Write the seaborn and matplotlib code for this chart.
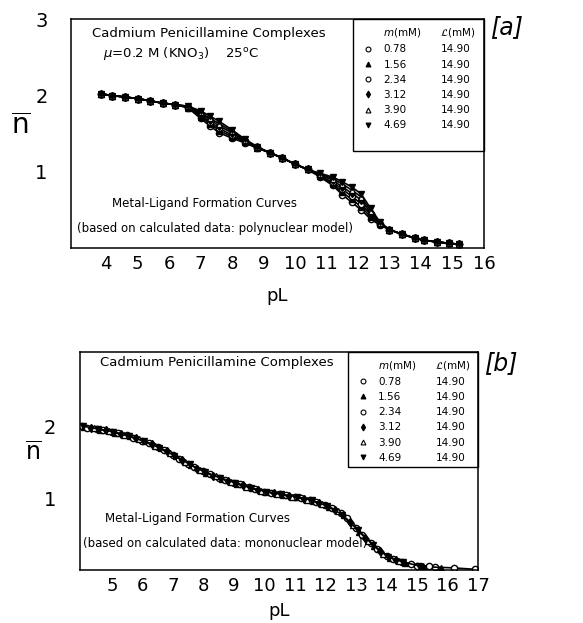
import matplotlib
matplotlib.use('Agg')
import matplotlib.pyplot as plt
import matplotlib.patches as mpatches
from matplotlib.lines import Line2D
import seaborn as sns

### DATA ###
m_labels = ['0.78', '1.56', '2.34', '3.12', '3.90', '4.69']
L_labels = ['14.90', '14.90', '14.90', '14.90', '14.90', '14.90']

## panel [a] : polynuclear model (shared pL grid)
pL_a = [3.85, 4.2, 4.6, 5.0, 5.4, 5.8, 6.2, 6.6, 7.0, 7.3, 7.6, 8.0, 8.4, 8.8,
        9.2, 9.6, 10.0, 10.4, 10.8, 11.2, 11.5, 11.8, 12.1, 12.4, 12.7, 13.0,
        13.4, 13.8, 14.1, 14.5, 14.9, 15.2]
nbar_a_078 = [2.02, 2.00, 1.98, 1.96, 1.93, 1.90, 1.88, 1.84, 1.70, 1.60, 1.51, 1.44, 1.38, 1.31,
              1.25, 1.18, 1.10, 1.03, 0.93, 0.82, 0.70, 0.60, 0.50, 0.38, 0.30, 0.24,
              0.18, 0.13, 0.10, 0.08, 0.06, 0.05]
nbar_a_156 = [2.02, 2.00, 1.98, 1.96, 1.93, 1.90, 1.88, 1.84, 1.72, 1.63, 1.54, 1.46, 1.39, 1.31,
              1.25, 1.18, 1.10, 1.03, 0.94, 0.84, 0.73, 0.64, 0.54, 0.41, 0.31, 0.24,
              0.18, 0.13, 0.10, 0.08, 0.06, 0.05]
nbar_a_234 = [2.02, 2.00, 1.98, 1.96, 1.93, 1.90, 1.88, 1.85, 1.74, 1.65, 1.57, 1.48, 1.40, 1.32,
              1.25, 1.18, 1.10, 1.03, 0.95, 0.86, 0.77, 0.68, 0.58, 0.44, 0.32, 0.24,
              0.18, 0.13, 0.10, 0.08, 0.06, 0.05]
nbar_a_312 = [2.02, 2.00, 1.98, 1.96, 1.93, 1.90, 1.88, 1.85, 1.76, 1.68, 1.60, 1.51, 1.41, 1.32,
              1.25, 1.18, 1.10, 1.03, 0.96, 0.89, 0.80, 0.72, 0.63, 0.46, 0.32, 0.24,
              0.18, 0.13, 0.10, 0.08, 0.06, 0.05]
nbar_a_390 = [2.02, 2.00, 1.98, 1.96, 1.93, 1.90, 1.88, 1.86, 1.78, 1.70, 1.63, 1.53, 1.42, 1.32,
              1.25, 1.18, 1.10, 1.03, 0.97, 0.91, 0.84, 0.76, 0.67, 0.49, 0.33, 0.24,
              0.18, 0.13, 0.10, 0.08, 0.06, 0.05]
nbar_a_469 = [2.02, 2.00, 1.98, 1.96, 1.93, 1.90, 1.88, 1.86, 1.80, 1.73, 1.66, 1.55, 1.43, 1.33,
              1.25, 1.18, 1.10, 1.03, 0.98, 0.93, 0.87, 0.80, 0.71, 0.52, 0.34, 0.24,
              0.18, 0.13, 0.10, 0.08, 0.06, 0.05]

## panel [b] : mononuclear model
pL_b_078 = [4.02, 4.5, 5.0, 5.5, 6.0, 6.5, 7.0, 7.5, 8.0, 8.5, 9.0, 9.5, 10.0, 10.5, 11.0,
            11.5, 12.0, 12.5, 13.0, 13.5, 14.0, 14.5, 15.0, 15.6, 16.2, 16.9]
nbar_b_078 = [2.00, 1.96, 1.92, 1.87, 1.80, 1.71, 1.60, 1.48, 1.37, 1.28, 1.21, 1.15, 1.09, 1.05, 1.02,
              0.97, 0.90, 0.79, 0.58, 0.37, 0.19, 0.11, 0.06, 0.04, 0.03, 0.01]
pL_b_156 = [4.1, 4.6, 5.1, 5.6, 6.1, 6.6, 7.1, 7.6, 8.1, 8.6, 9.1, 9.6, 10.1, 10.6, 11.1,
            11.6, 12.1, 12.6, 13.1, 13.6, 14.1, 14.6, 15.2, 15.8]
nbar_b_156 = [1.99, 1.95, 1.91, 1.86, 1.79, 1.69, 1.58, 1.46, 1.35, 1.27, 1.20, 1.14, 1.08, 1.04, 1.01,
              0.96, 0.88, 0.76, 0.53, 0.33, 0.17, 0.10, 0.05, 0.035]
pL_b_234 = [4.2, 4.7, 5.2, 5.7, 6.2, 6.7, 7.2, 7.7, 8.2, 8.7, 9.2, 9.7, 10.2, 10.7, 11.2,
            11.7, 12.2, 12.7, 13.2, 13.7, 14.2, 14.8, 15.4]
nbar_b_234 = [1.98, 1.95, 1.90, 1.84, 1.77, 1.67, 1.55, 1.43, 1.33, 1.25, 1.19, 1.12, 1.07, 1.04, 1.00,
              0.95, 0.86, 0.72, 0.49, 0.29, 0.15, 0.08, 0.05]
pL_b_312 = [4.3, 4.8, 5.3, 5.8, 6.3, 6.8, 7.3, 7.8, 8.3, 8.8, 9.3, 9.8, 10.3, 10.8, 11.3,
            11.8, 12.3, 12.8, 13.3, 13.8, 14.3]
nbar_b_312 = [1.98, 1.94, 1.89, 1.83, 1.75, 1.65, 1.53, 1.41, 1.31, 1.24, 1.18, 1.11, 1.07, 1.03, 0.99,
              0.93, 0.84, 0.67, 0.45, 0.26, 0.14]
pL_b_390 = [4.4, 4.9, 5.4, 5.9, 6.4, 6.9, 7.4, 7.9, 8.4, 8.9, 9.4, 9.9, 10.4, 10.9, 11.4,
            11.9, 12.4, 12.9, 13.4, 13.9, 14.4]
nbar_b_390 = [1.97, 1.93, 1.88, 1.82, 1.73, 1.62, 1.50, 1.39, 1.30, 1.22, 1.16, 1.10, 1.06, 1.02, 0.98,
              0.92, 0.82, 0.62, 0.41, 0.22, 0.12]
pL_b_469 = [4.05, 4.55, 5.05, 5.55, 6.05, 6.55, 7.05, 7.55, 8.05, 8.55, 9.05, 9.55, 10.05, 10.55, 11.05,
            11.55, 12.05, 12.55, 13.05, 13.55, 14.05, 14.55, 15.05]
nbar_b_469 = [2.00, 1.96, 1.92, 1.86, 1.79, 1.70, 1.59, 1.47, 1.36, 1.28, 1.21, 1.14, 1.09, 1.05, 1.02,
              0.97, 0.89, 0.77, 0.56, 0.35, 0.18, 0.11, 0.06]

series_a = [(pL_a, nbar_a_078), (pL_a, nbar_a_156), (pL_a, nbar_a_234),
            (pL_a, nbar_a_312), (pL_a, nbar_a_390), (pL_a, nbar_a_469)]
series_b = [(pL_b_078, nbar_b_078), (pL_b_156, nbar_b_156), (pL_b_234, nbar_b_234),
            (pL_b_312, nbar_b_312), (pL_b_390, nbar_b_390), (pL_b_469, nbar_b_469)]

## marker style per m: (marker, face colour)
marker_styles = [('o', 'white'), ('^', 'black'), ('o', 'white'),
                 ('d', 'black'), ('^', 'white'), ('v', 'black')]

### STYLE ###
sns.set_style('white')
plt.rcParams['font.family'] = ['DejaVu Sans']
plt.rcParams['xtick.direction'] = 'in'
plt.rcParams['ytick.direction'] = 'in'
plt.rcParams['mathtext.fontset'] = 'dejavusans'
for k in ['text.color', 'axes.labelcolor', 'xtick.color', 'ytick.color']:
    plt.rcParams[k] = 'black'


def plotPanel(ax, series, xlim, ylim, yticks, xticks, lines, tag, box, leg_anchor, nlabel, xlabelpad):
    for (x, y), (mk, fc) in zip(series, marker_styles):
        sns.lineplot(x=x, y=y, ax=ax, color='black', lw=1.2, marker=mk, markersize=4.5,
                     markerfacecolor=fc, markeredgecolor='black', markeredgewidth=1.0,
                     sort=False, estimator=None)

    ax.set_xlim(*xlim)
    ax.set_ylim(*ylim)
    ax.set_xticks(xticks)
    ax.set_yticks(yticks)
    ax.tick_params(axis='x', length=6, width=0.8, labelsize=13, pad=5, top=False)
    ax.tick_params(axis='y', length=7, width=0.8, labelsize=14, pad=17, right=False)
    for sp in ax.spines.values():
        sp.set_color('black')
        sp.set_linewidth(1.1)

    ax.set_xlabel('pL', fontsize=13, labelpad=xlabelpad)
    ax.set_ylabel(r'$\overline{\mathrm{n}}$', fontsize=nlabel[2], rotation=0)
    ax.yaxis.set_label_coords(nlabel[0], nlabel[1])

    # text annotations
    for (tx, ty, s, fs) in lines:
        ax.text(tx, ty, s, transform=ax.transAxes, fontsize=fs, va='center', ha='left')
    ax.text(1.015, tag[1], tag[0], transform=ax.transAxes, fontsize=17, style='italic',
            va='center', ha='left')

    # legend box
    ax.add_patch(mpatches.Rectangle((box[0], box[1]), 1 - box[0], 1 - box[1],
                                    transform=ax.transAxes, fill=False,
                                    edgecolor='black', lw=1.0, clip_on=False))
    blank = Line2D([], [], ls='none', marker='none')
    handles = [blank] + [Line2D([], [], ls='none', marker=mk, markersize=3.5, color='black',
                                markerfacecolor=fc, markeredgewidth=0.8)
                         for mk, fc in marker_styles]
    handles += [blank] * 7
    labels = [r'$\mathit{m}$(mM)'] + m_labels + [r'$\mathcal{L}$(mM)'] + L_labels
    ax.legend(handles, labels, ncol=2, frameon=False, loc='upper left',
              bbox_to_anchor=leg_anchor, fontsize=7.5, handlelength=1.0,
              handletextpad=1.0, columnspacing=-0.2, labelspacing=0.5,
              borderpad=0, borderaxespad=0)


fig = plt.figure(figsize=(5.83, 6.23), dpi=100)
ax_a = fig.add_axes([0.122, 0.602, 0.708, 0.367])
ax_b = fig.add_axes([0.137, 0.085, 0.683, 0.35])

lines_a = [(0.05, 0.94, 'Cadmium Penicillamine Complexes', 9.5),
           (0.078, 0.85, r'$\mu$=0.2 M (KNO$_3$)    25$^{\mathrm{o}}$C', 9.5),
           (0.098, 0.195, 'Metal-Ligand Formation Curves', 8.5),
           (0.015, 0.083, '(based on calculated data: polynuclear model)', 8.5)]
lines_b = [(0.05, 0.95, 'Cadmium Penicillamine Complexes', 9.5),
           (0.063, 0.235, 'Metal-Ligand Formation Curves', 8.5),
           (0.008, 0.12, '(based on calculated data: mononuclear model)', 8.5)]

plotPanel(ax_a, series_a, (2.89, 16.0), (0, 3), [1, 2, 3], list(range(4, 17)), lines_a,
          ('[a]', 0.965), (0.683, 0.424), (0.706, 0.97), (-0.121, 0.47, 20), 10)
plotPanel(ax_b, series_b, (3.95, 17.0), (0, 3.03), [1, 2], list(range(5, 18)), lines_b,
          ('[b]', 0.95), (0.673, 0.472), (0.697, 0.97), (-0.116, 0.48, 17), 5)

fig.savefig('out.png', dpi=100)
